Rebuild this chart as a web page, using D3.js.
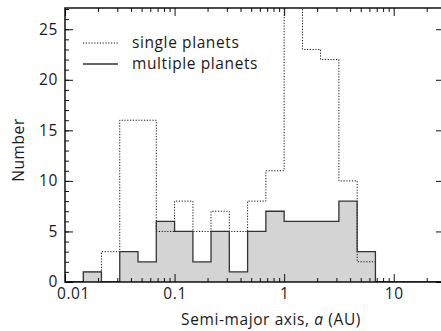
<!DOCTYPE html>
<html>
<head>
<meta charset="utf-8">
<script src="https://cdn.jsdelivr.net/npm/d3@7"></script>
<style>
body { margin: 0; background: #fff; }
text { font-family: "Open Sans", sans-serif; fill: #1a1a1a; letter-spacing: 0.6px; }
</style>
</head>
<body>
<script>
// bin edges (AU), 1/6 dex wide
var binEdges = [0.01, 0.0147, 0.0215, 0.0316, 0.0464, 0.0681, 0.1, 0.147, 0.215, 0.316,
                0.464, 0.681, 1, 1.47, 2.15, 3.16, 4.64, 6.81, 10, 14.7, 21.5, 31.6];
var singleCounts   = [0, 1, 3, 16, 16, 5, 8, 5, 7, 5, 8, 11, 32, 23, 22, 10, 2, 0, 0, 0, 0];
var multipleCounts = [0, 1, 0, 3, 2, 6, 5, 2, 5, 1, 5, 7, 6, 6, 6, 8, 3, 0, 0, 0, 0];
var xMajor = [0.01, 0.1, 1, 10];
var xMinor = [0.02, 0.03, 0.04, 0.05, 0.06, 0.07, 0.08, 0.09,
              0.2, 0.3, 0.4, 0.5, 0.6, 0.7, 0.8, 0.9,
              2, 3, 4, 5, 6, 7, 8, 9, 20, 30];
var yMajor = [0, 5, 10, 15, 20, 25];
var yMinor = d3.range(0, 28);

var W = 441, H = 331;
var pL = 65, pT = 8, pR = 446, pB = 282;

var x = d3.scaleLog().domain([0.01, 30]).range([pL, pR]);
var y = d3.scaleLinear().domain([0, 27.1]).range([pB, pT]);

var svg = d3.select("body").append("svg")
    .attr("width", W).attr("height", H);

svg.append("clipPath").attr("id", "clip")
   .append("rect")
   .attr("x", pL).attr("y", pT)
   .attr("width", pR - pL).attr("height", pB - pT);

// step path for a histogram
function stepPoints(counts) {
    var pts = [[binEdges[0], 0]];
    counts.forEach(function(c, i) {
        pts.push([binEdges[i], c]);
        pts.push([binEdges[i + 1], c]);
    });
    pts.push([binEdges[binEdges.length - 1], 0]);
    return pts;
}
var line = d3.line().x(d => x(d[0])).y(d => y(d[1]));

var plot = svg.append("g").attr("clip-path", "url(#clip)");

plot.append("path")
    .attr("d", line(stepPoints(multipleCounts)) + "Z")
    .attr("fill", "#d4d4d4")
    .attr("stroke", "none");

plot.append("path")
    .attr("d", line(stepPoints(singleCounts)))
    .attr("fill", "none")
    .attr("stroke", "#111")
    .attr("stroke-width", 1)
    .attr("stroke-dasharray", "1.2,1.6");

plot.append("path")
    .attr("d", line(stepPoints(multipleCounts)))
    .attr("fill", "none")
    .attr("stroke", "#333")
    .attr("stroke-width", 1.3);

// axes, ticks pointing inward
var fs = "15.5px";
var xb = svg.append("g").attr("transform", "translate(0," + pB + ")")
    .call(d3.axisBottom(x).tickValues(xMajor).tickSize(-8).tickPadding(6)
          .tickFormat(d => d >= 1 ? d3.format("d")(d) : String(d)));
xb.selectAll("text").attr("font-size", fs);
xb.selectAll("text").filter(d => d === 0.01).attr("dx", 8);
svg.append("g").attr("transform", "translate(0," + pB + ")")
    .call(d3.axisBottom(x).tickValues(xMinor).tickSize(-4).tickFormat(""));
svg.append("g").attr("transform", "translate(0," + pT + ")")
    .call(d3.axisTop(x).tickValues(xMajor).tickSize(-8).tickFormat(""));
svg.append("g").attr("transform", "translate(0," + pT + ")")
    .call(d3.axisTop(x).tickValues(xMinor).tickSize(-4).tickFormat(""));

var yl = svg.append("g").attr("transform", "translate(" + pL + ",0)")
    .call(d3.axisLeft(y).tickValues(yMajor).tickSize(-8).tickPadding(7));
yl.selectAll("text").attr("font-size", fs);
svg.append("g").attr("transform", "translate(" + pL + ",0)")
    .call(d3.axisLeft(y).tickValues(yMinor).tickSize(-4).tickFormat(""));
svg.append("g").attr("transform", "translate(" + pR + ",0)")
    .call(d3.axisRight(y).tickValues(yMajor).tickSize(-10).tickFormat(""));
svg.append("g").attr("transform", "translate(" + pR + ",0)")
    .call(d3.axisRight(y).tickValues(yMinor).tickSize(-4).tickFormat(""));

svg.selectAll(".domain").remove();
svg.selectAll(".tick line").attr("stroke", "#111");

svg.append("rect")
    .attr("x", pL).attr("y", pT)
    .attr("width", pR - pL).attr("height", pB - pT)
    .attr("fill", "none").attr("stroke", "#000").attr("stroke-width", 1.4);

// axis titles
var xt = svg.append("text")
    .attr("x", 271).attr("y", 325)
    .attr("text-anchor", "middle")
    .attr("font-size", fs);
xt.append("tspan").text("Semi-major axis, ");
xt.append("tspan").attr("font-style", "italic").text("a");
xt.append("tspan").text(" (AU)");

svg.append("text")
    .attr("transform", "translate(24,150) rotate(-90)")
    .attr("text-anchor", "middle")
    .attr("font-size", fs)
    .text("Number");

// legend
var legend = [["single planets", "1.2,1.6", "#111"], ["multiple planets", null, "#333"]];
legend.forEach(function(l, i) {
    var ly = 43 + i * 21;
    svg.append("line")
        .attr("x1", 83).attr("x2", 118).attr("y1", ly).attr("y2", ly)
        .attr("stroke", l[2]).attr("stroke-width", i ? 1.3 : 1)
        .attr("stroke-dasharray", l[1]);
    svg.append("text")
        .attr("x", 132).attr("y", ly)
        .attr("dy", "0.32em")
        .attr("font-size", fs)
        .text(l[0]);
});
</script>
</body>
</html>
